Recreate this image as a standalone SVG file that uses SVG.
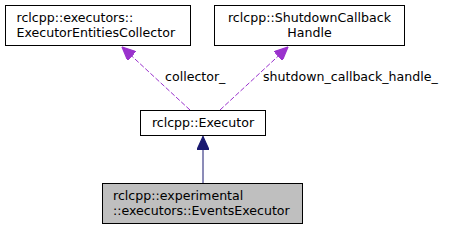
<svg xmlns="http://www.w3.org/2000/svg" width="451" height="232" viewBox="0 0 451 232">
<style>
.box{fill:#ffffff;stroke:#000000;stroke-width:1}
.cur{fill:#bfbfbf;stroke:#000000;stroke-width:1}
text{font-family:"DejaVu Sans",sans-serif;font-size:12.6px;fill:#000000}
.use{fill:none;stroke:#9a32cd;stroke-width:1;stroke-dasharray:5,2}
.inh{fill:none;stroke:#191970;stroke-width:1}
</style>
<defs>
<marker id="pa" markerUnits="userSpaceOnUse" markerWidth="14" markerHeight="12" refX="11" refY="5" orient="auto" viewBox="0 0 11 10">
<polygon points="0,0 11,5 0,10" fill="#9a32cd" stroke="#9a32cd"/>
</marker>
<marker id="na" markerUnits="userSpaceOnUse" markerWidth="14" markerHeight="12" refX="11" refY="5" orient="auto" viewBox="0 0 11 10">
<polygon points="0,0 11,5 0,10" fill="#191970" stroke="#191970"/>
</marker>
</defs>
<g id="connectors">
<line class="inh" x1="203" y1="183" x2="203" y2="136.5" marker-end="url(#na)"/>
<line class="use" x1="190" y1="110" x2="122" y2="47" marker-end="url(#pa)"/>
<line class="use" x1="220" y1="110" x2="288" y2="47" marker-end="url(#pa)"/>
<text x="165" y="81">collector_</text>
<text x="263" y="81">shutdown_callback_handle_</text>
</g>
<g id="node_collector">
<rect class="box" x="5.5" y="5.5" width="185" height="40"/>
<text x="16.5" y="22">rclcpp::executors::</text>
<text x="16.5" y="37">ExecutorEntitiesCollector</text>
</g>
<g id="node_shutdown">
<rect class="box" x="214.5" y="5.5" width="190" height="40"/>
<text x="309.5" y="22" text-anchor="middle">rclcpp::ShutdownCallback</text>
<text x="309.5" y="37" text-anchor="middle">Handle</text>
</g>
<g id="node_executor">
<rect class="box" x="140.5" y="110.5" width="125" height="25"/>
<text x="203" y="127" text-anchor="middle">rclcpp::Executor</text>
</g>
<g id="node_events">
<rect class="cur" x="102.5" y="183.5" width="200" height="40"/>
<text x="113" y="200">rclcpp::experimental</text>
<text x="113" y="215">::executors::EventsExecutor</text>
</g>
</svg>
